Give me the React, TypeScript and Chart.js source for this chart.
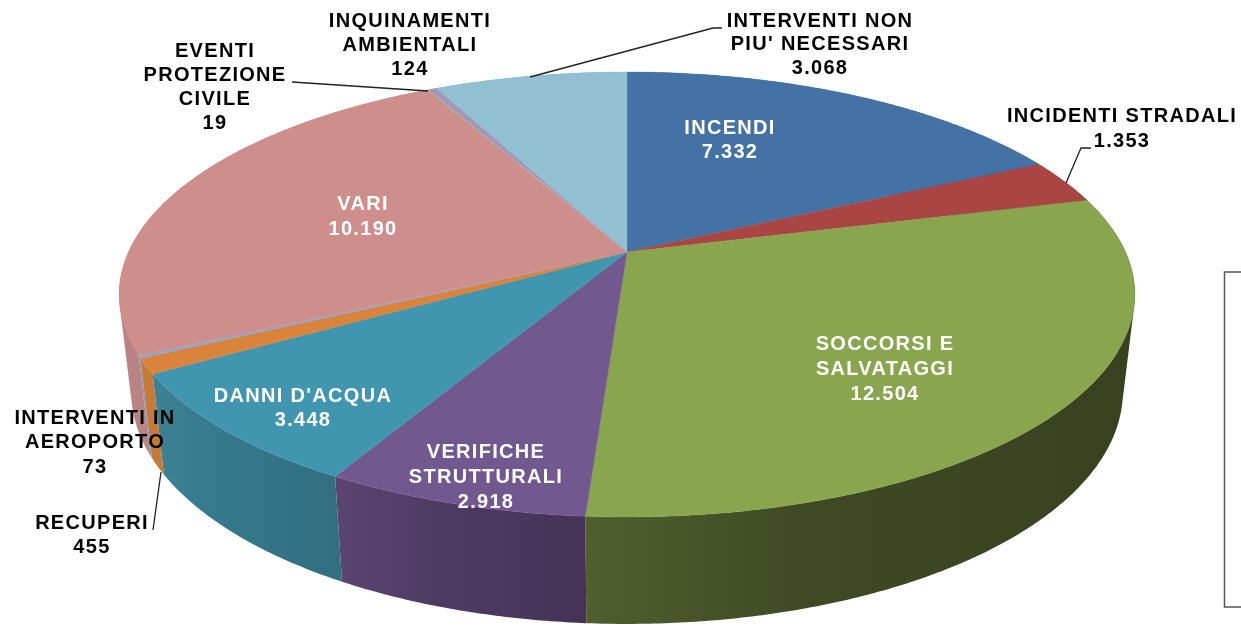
import React, { useEffect, useRef } from "react";
import { Chart, registerables } from "chart.js";

Chart.register(...registerables);

const categories = [
  ["INCENDI"],
  ["INCIDENTI STRADALI"],
  ["SOCCORSI E", "SALVATAGGI"],
  ["VERIFICHE", "STRUTTURALI"],
  ["DANNI D'ACQUA"],
  ["RECUPERI"],
  ["INTERVENTI IN", "AEROPORTO"],
  ["VARI"],
  ["EVENTI", "PROTEZIONE", "CIVILE"],
  ["INQUINAMENTI", "AMBIENTALI"],
  ["INTERVENTI NON", "PIU' NECESSARI"],
];
const values = [7332, 1353, 12504, 2918, 3448, 455, 73, 10190, 19, 124, 3068];
const faceColors = ["#4572A5", "#A94543", "#89A54E", "#71588F", "#4096AE", "#D9833C", "#8FA6CC", "#CD8E8C", "#B5C994", "#A696BC", "#91C0D2"];
const wallLeft = ["#3a5f8a", "#8c3a38", "#4F5F2E", "#5A4570", "#3C8195", "#C67A38", "#7f93b5", "#B98584", "#98aa7c", "#8b7d9d", "#7aa2b1"];
const wallMid = ["#355a80", "#803533", "#3F4A24", "#4E3B64", "#36788B", "#C67A38", "#7f93b5", "#B58180", "#98aa7c", "#8b7d9d", "#7aa2b1"];
const wallRight = ["#2f4d70", "#71302e", "#38411F", "#443356", "#316E80", "#C67A38", "#7f93b5", "#B07C7B", "#98aa7c", "#8b7d9d", "#7aa2b1"];
const labelColors = ["#fff", "#000", "#fff", "#fff", "#fff", "#000", "#000", "#fff", "#000", "#000", "#000"];

// Layout of the text blocks (centre x, first line middle y, line step)
const labelLayout = [
  [730, 128, 24],
  [1122, 116, 25],
  [885, 344, 25],
  [486, 452, 25],
  [303, 396, 24],
  [92, 523, 24],
  [95, 418, 24.5],
  [363, 204, 25],
  [215, 51, 24.3],
  [410, 21, 24],
  [820, 21, 23.5],
];
const leaders = [
  [[530, 77], [713, 28], [722, 28]],
  [[1066, 183], [1081, 148], [1091, 148]],
  [[428, 91], [292, 82]],
  [[161, 472], [153, 530]],
];

const CX = 627, APEX = 252, PK = -0.191, PA = 166.2, PC = 498.5;
const project = (ang: number) => {
  const X = Math.cos(ang), Y = Math.sin(ang), d = 1 + PK * Y;
  return [CX + (PC * X) / d, (PA * Y + APEX) / d];
};
const toBottom = (p: number[]) => [CX + ((p[0] - CX) / 508) * 496, 392 + ((p[1] - 295) / 222) * 232];
const samples = (a: number, b: number) => {
  const n = Math.max(2, Math.ceil(((b - a) * 180) / Math.PI) * 2);
  const r: number[][] = [];
  for (let i = 0; i <= n; i++) r.push(project(a + ((b - a) * i) / n));
  return r;
};
const fmt = (v: number) => String(v).replace(/\B(?=(\d{3})+$)/g, ".");

const pie3d = {
  id: "pie3d",
  beforeDatasetDraw(chart: any) {
    const ctx = chart.ctx;
    const arcs = chart.getDatasetMeta(0).data;
    ctx.save();
    // walls: all quads of a slice go in one path, wound the same way, filled once
    arcs.forEach((el: any, i: number) => {
      const top = samples(el.startAngle, el.endAngle);
      const bot = top.map(toBottom);
      const xs = top.concat(bot).map((p) => p[0]);
      const g = ctx.createLinearGradient(Math.min(...xs), 0, Math.max(...xs), 0);
      g.addColorStop(0, wallLeft[i]);
      g.addColorStop(0.4, wallMid[i]);
      g.addColorStop(1, wallRight[i]);
      ctx.beginPath();
      for (let k = 0; k + 1 < top.length; k++) {
        const q = [top[k], top[k + 1], bot[k + 1], bot[k]];
        let area = 0;
        q.forEach((p, j) => {
          const n = q[(j + 1) % 4];
          area += p[0] * n[1] - n[0] * p[1];
        });
        if (area < 0) q.reverse();
        q.forEach((p, j) => (j ? ctx.lineTo(p[0], p[1]) : ctx.moveTo(p[0], p[1])));
        ctx.closePath();
      }
      ctx.fillStyle = g;
      ctx.fill("nonzero");
    });
    // top faces
    arcs.forEach((el: any) => {
      const c = el.options.backgroundColor;
      ctx.beginPath();
      ctx.moveTo(CX, APEX);
      samples(el.startAngle, el.endAngle).forEach((p) => ctx.lineTo(p[0], p[1]));
      ctx.closePath();
      ctx.fillStyle = c;
      ctx.strokeStyle = c;
      ctx.lineWidth = 0.4;
      ctx.fill();
      ctx.stroke();
    });
    ctx.restore();
    return false;
  },
  afterDatasetsDraw(chart: any) {
    const ctx = chart.ctx;
    ctx.save();
    ctx.strokeStyle = "#222";
    ctx.lineWidth = 1.3;
    leaders.forEach((pts) => {
      ctx.beginPath();
      pts.forEach((p, k) => (k ? ctx.lineTo(p[0], p[1]) : ctx.moveTo(p[0], p[1])));
      ctx.stroke();
    });
    // frame of the cut-off box at the right
    ctx.strokeStyle = "#555";
    ctx.lineWidth = 1.5;
    ctx.beginPath();
    ctx.moveTo(1241, 272);
    ctx.lineTo(1224.5, 272);
    ctx.lineTo(1224.5, 607);
    ctx.lineTo(1241, 607);
    ctx.stroke();
    ctx.font = "bold 20px 'Liberation Sans'";
    ctx.letterSpacing = "1.3px";
    ctx.textAlign = "center";
    ctx.textBaseline = "middle";
    categories.forEach((lines, i) => {
      const [x, y, step] = labelLayout[i];
      ctx.fillStyle = labelColors[i];
      [...lines, fmt(values[i])].forEach((t, k) => ctx.fillText(t, x, y + k * step));
    });
    ctx.restore();
  },
};

export default function App() {
  const ref = useRef<HTMLCanvasElement>(null);
  useEffect(() => {
    const chart = new Chart(ref.current!, {
      type: "pie",
      data: {
        labels: categories.map((c) => c.join(" ")),
        datasets: [{ data: values, backgroundColor: faceColors, borderWidth: 0 }],
      },
      options: {
        animation: false,
        responsive: false,
        plugins: { legend: { display: false }, tooltip: { enabled: false } },
      },
      plugins: [pie3d],
    });
    return () => chart.destroy();
  }, []);
  return (
    <div style={{ position: "absolute", left: 0, top: 0, width: 1241, height: 626, overflow: "hidden", background: "#fff" }}>
      <canvas ref={ref} width={1241} height={626} style={{ display: "block", filter: "blur(0.45px)" }} />
    </div>
  );
}
